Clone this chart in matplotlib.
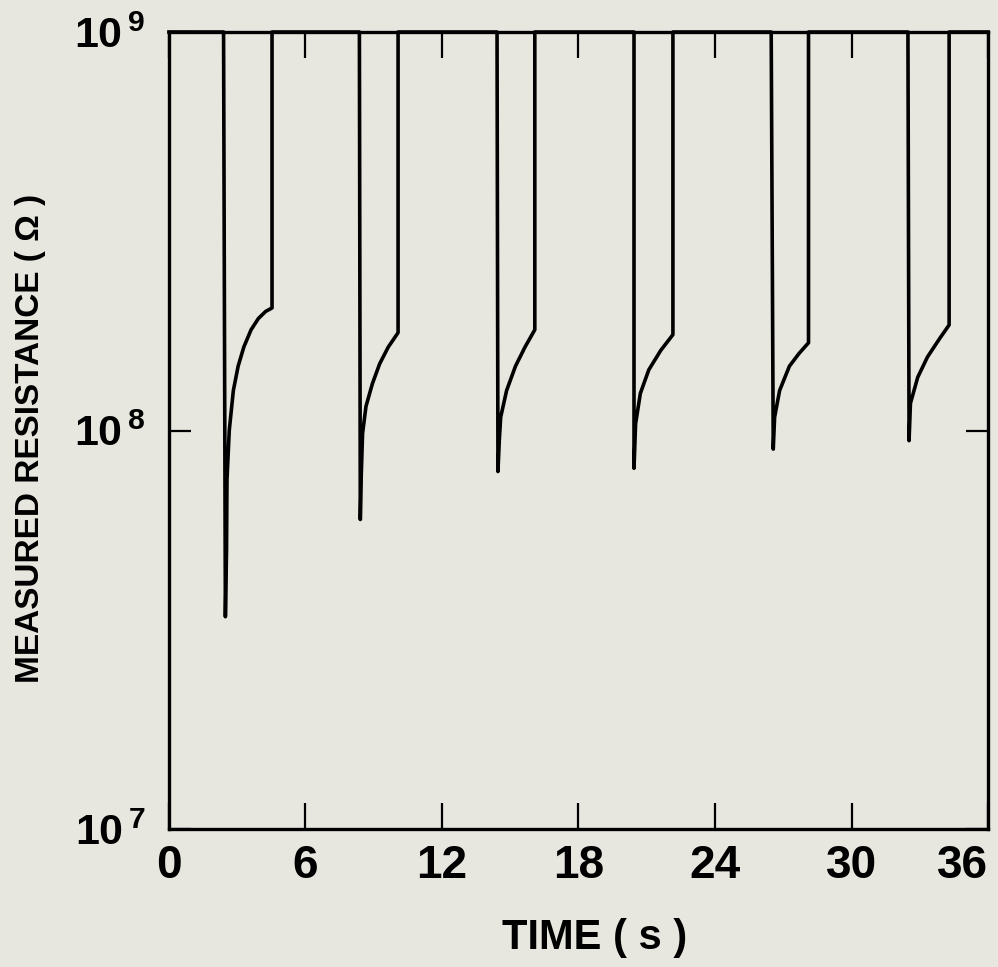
import matplotlib
matplotlib.use("Agg")
import matplotlib.pyplot as plt
from matplotlib.ticker import FixedLocator, FixedFormatter, NullLocator

# Шрифт: жирный гротеск (узкого на машине нет)
plt.rcParams['font.family'] = ['Liberation Sans', 'DejaVu Sans']
plt.rcParams['font.weight'] = 'bold'
plt.rcParams['mathtext.fontset'] = 'custom'
plt.rcParams['mathtext.rm'] = 'Liberation Sans:bold'
plt.rcParams['mathtext.default'] = 'rm'

# Данные: момент падения, минимум, кривая восстановления
drop_t = [2.40, 8.37, 14.42, 20.44, 26.47, 32.48]
min_t = [2.48, 8.41, 14.46, 20.44, 26.56, 32.53]
min_r = [3.41e7, 5.98e7, 7.89e7, 8.04e7, 8.98e7, 9.43e7]
rise_t = [[2.53, 2.55, 2.65, 2.83, 3.04, 3.29, 3.61, 3.93, 4.25, 4.53],
          [8.45, 8.51, 8.66, 8.94, 9.26, 9.64, 10.07],
          [14.52, 14.58, 14.84, 15.23, 15.65, 16.08],
          [20.51, 20.72, 21.09, 21.62, 22.15],
          [26.62, 26.84, 27.27, 27.69, 28.11],
          [32.59, 32.91, 33.34, 33.87, 34.29]]
rise_r = [[5.01e7, 7.52e7, 1.00e8, 1.26e8, 1.45e8, 1.62e8, 1.79e8, 1.91e8, 1.99e8, 2.03e8],
          [7.66e7, 9.84e7, 1.15e8, 1.31e8, 1.47e8, 1.62e8, 1.76e8],
          [9.46e7, 1.08e8, 1.26e8, 1.45e8, 1.62e8, 1.79e8],
          [1.04e8, 1.24e8, 1.42e8, 1.59e8, 1.74e8],
          [1.08e8, 1.26e8, 1.45e8, 1.56e8, 1.66e8],
          [1.17e8, 1.36e8, 1.53e8, 1.70e8, 1.84e8]]
r_top = 1e9
x_ticks = [0, 6, 12, 18, 24, 30, 36]
x_labels = ["0", "6", "12", "18", "24", "30", "36"]
y_ticks = [1e7, 1e8, 1e9]
y_labels = [r'$10^{\,7}$', r'$10^{\,8}$', r'$10^{\,9}$']

# Собираем единую кривую записи
t_all = [0.0]
r_all = [r_top]
for i in range(len(drop_t)):
    t_all += [drop_t[i], min_t[i]] + rise_t[i] + [rise_t[i][-1]]
    r_all += [r_top, min_r[i]] + rise_r[i] + [r_top]
t_all.append(36.0)
r_all.append(r_top)

bg = '#e7e7df'
fig = plt.figure(figsize=(9.98, 9.67), dpi=100, facecolor=bg)
ax = fig.add_axes([0.1693, 0.1427, 0.8207, 0.8242], facecolor=bg)

ax.plot(t_all, r_all, color='black', lw=2.6, clip_on=False)

ax.set_yscale('log')
ax.set_xlim(0, 36)
ax.set_ylim(1e7, 1e9)

for s in ax.spines.values():
    s.set_linewidth(2.4)

ax.xaxis.set_major_locator(FixedLocator(x_ticks))
ax.xaxis.set_major_formatter(FixedFormatter(x_labels))
ax.tick_params(axis='x', which='major', direction='in', length=19, width=1.6,
               top=True, bottom=True, labelsize=33, pad=11)
ax.get_xticklabels()[-1].set_horizontalalignment('right')

ax.yaxis.set_major_locator(FixedLocator(y_ticks))
ax.yaxis.set_major_formatter(FixedFormatter(y_labels))
ax.yaxis.set_minor_locator(NullLocator())
ax.tick_params(axis='y', which='major', direction='in', length=16, width=1.6,
               left=True, right=True, labelsize=31, pad=17)

ax.set_xlabel('TIME ( s )', fontsize=30, fontweight='bold')
ax.xaxis.set_label_coords(0.52, -0.112)
ax.set_ylabel('MEASURED RESISTANCE ( Ω )', fontsize=24, fontweight='bold')
ax.yaxis.set_label_coords(-0.15, 0.49)

fig.savefig('out.png', dpi=100, facecolor=bg)
